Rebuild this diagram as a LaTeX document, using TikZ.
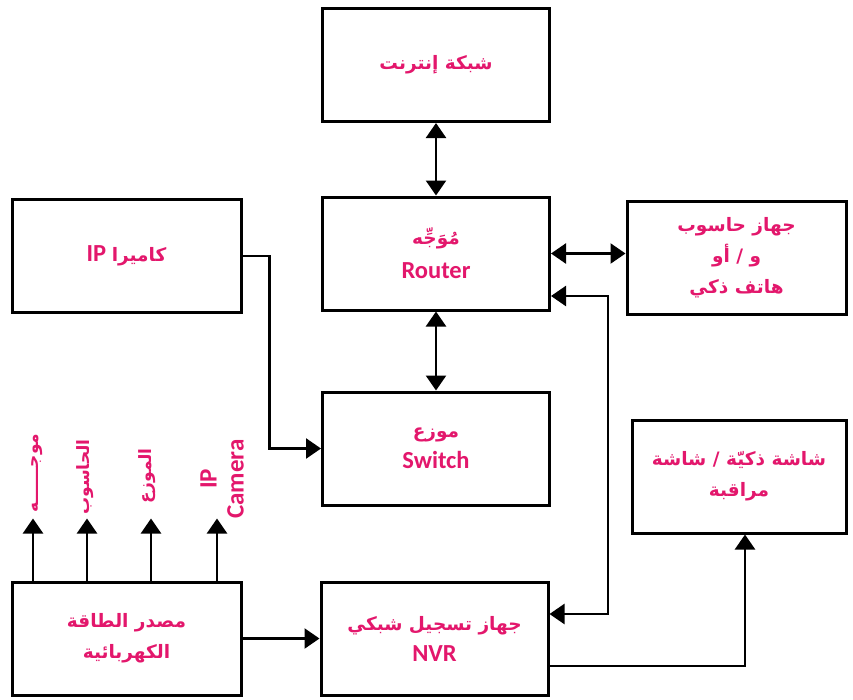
\documentclass[tikz,border=0pt]{standalone}
\usepackage{fontspec}
\setmainfont{Carlito}
\newfontfamily\arabicfont[Script=Arabic]{DejaVu Sans}
\TeXXeTstate=1
\usepackage{tikz}
\usetikzlibrary{arrows.meta,positioning}
\usepackage{xcolor}
\definecolor{LabelPink}{HTML}{E3176C}
\definecolor{Ink}{HTML}{000000}
\newcommand{\arline}[2][18.5]{{\arabicfont\bfseries\fontsize{#1}{31}\selectfont\beginR #2\endR}}

\begin{document}
\begin{tikzpicture}[x=1pt,y=-1pt,
  box/.style={draw=Ink,line width=3pt,fill=white,inner sep=0pt,align=center,
    minimum width=227pt,minimum height=113pt,text=LabelPink,
    font=\fontsize{24.5}{31}\selectfont\bfseries},
  link/.style={draw=Ink,line width=2.4pt},
  arr/.style={link,-{Triangle[length=15pt,width=20pt]}},
  dbl/.style={link,{Triangle[length=15pt,width=20pt]}-{Triangle[length=15pt,width=20pt]}},
  vlabel/.style={rotate=90,text=LabelPink,align=center,inner sep=0pt,
    font=\fontsize{25}{27}\selectfont\bfseries}]
  \useasboundingbox (0,0) rectangle (853,699);

  % Blocs du réseau
  \node[box] (inet) at (436,65) {\arline{شبكة إنترنت}};
  \node[box] (router) at (436,253.5) {\arline{مُوَجِّه}\\[3pt] Router};
  \node[box,minimum width=219pt] (pc) at (736.5,257.5)
    {\arline{جهاز حاسوب}\\ \arline{و / أو}\\ \arline{هاتف ذكي}};
  \node[box,minimum width=229pt] (cam) at (126.5,256)
    {\beginR{\arabicfont\fontsize{18.5}{31}\selectfont كاميرا} IP\endR};
  \node[box] (switch) at (436,448.5) {\arline{موزع}\\ Switch};
  \node[box,minimum width=214pt] (screen) at (739,476.5)
    {\arline{شاشة ذكيّة / شاشة}\\ \arline{مراقبة}};
  \node[box,minimum width=229pt] (power) at (126.5,638.5)
    {\arline{مصدر الطاقة}\\ \arline{الكهربائية}};
  \node[box] (nvr) at (434.5,638.5) {\arline{جهاز تسجيل شبكي}\\ NVR};

  % Liaisons
  \draw[dbl] (inet.south) -- (router.north);
  \draw[dbl] (router.south) -- (switch.north);
  \draw[dbl] (router.east) -- (router.east -| pc.west);
  \draw[arr] (cam.east) -- ++(27,0) |- (switch.west);
  \draw[dbl] ([yshift=-42.5pt]router.east) -- ++(57,0) |- ([yshift=24.5pt]nvr.east);
  \draw[arr] ([yshift=-27.5pt]nvr.east) -| ([xshift=6pt]screen.south);
  \draw[arr] (power.east) -- (nvr.west);

  % Alimentation des appareils
  \draw[arr] ([xshift=-93.5pt]power.north) -- ++(0,-62) coordinate (tipRouter);
  \draw[arr] ([xshift=-39.5pt]power.north) -- ++(0,-62) coordinate (tipPc);
  \draw[arr] ([xshift=24.5pt]power.north) -- ++(0,-62) coordinate (tipSwitch);
  \draw[arr] ([xshift=90.5pt]power.north) -- ++(0,-62) coordinate (tipCam);
  \node[vlabel] (lblRouter) at (37,473) {\arline[17]{موجــــــه}};
  \node[vlabel] (lblPc) at (85,477) {\arline[17]{الحاسوب}};
  \node[vlabel] (lblSwitch) at (147,476) {\arline[17]{الموزع}};
  \node[vlabel] (lblCam) at (222,479) {IP\\ Camera};
\end{tikzpicture}
\end{document}
